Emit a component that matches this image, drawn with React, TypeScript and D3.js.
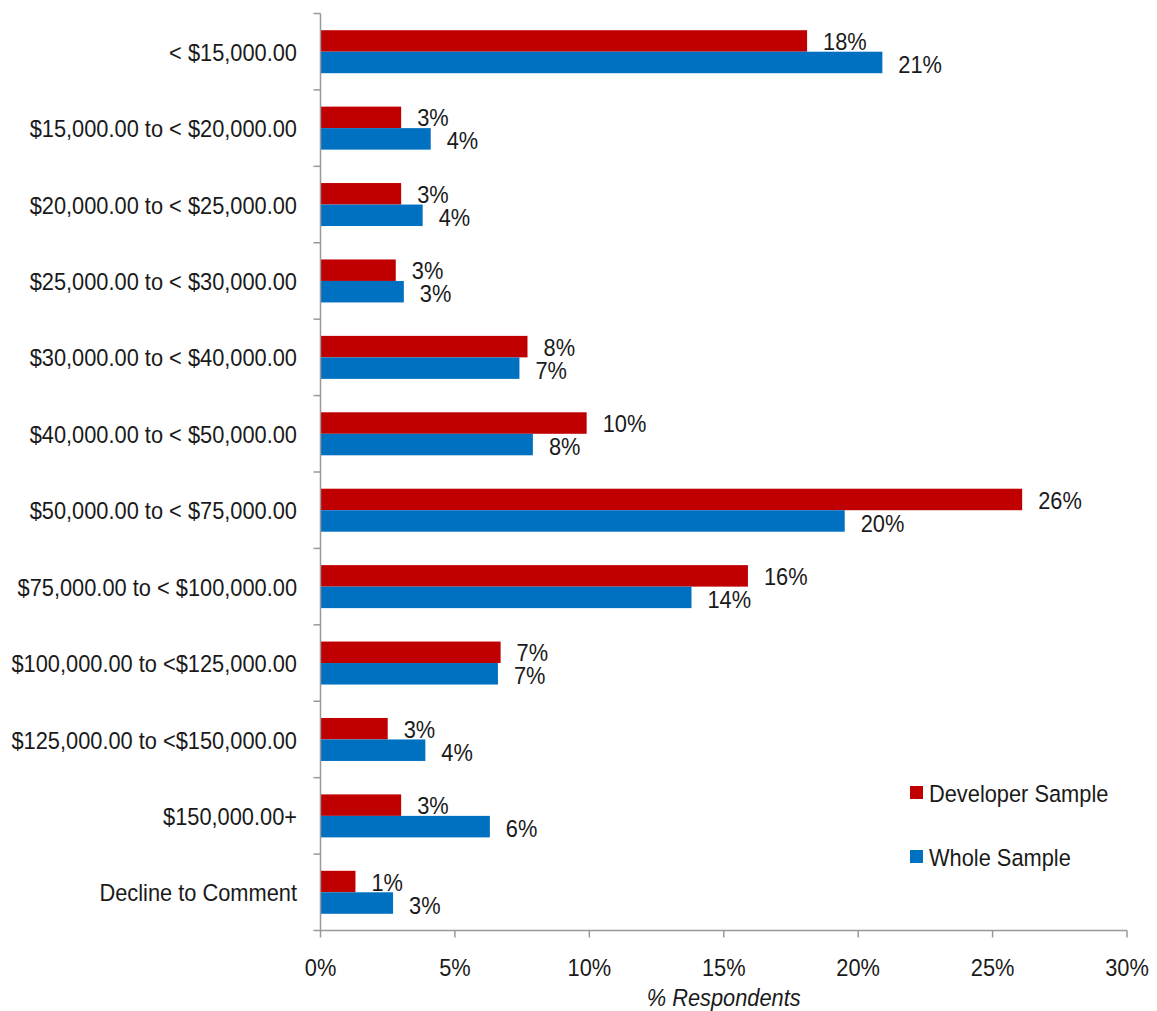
import React from "react";
import * as d3 from "d3";

const categories = [
  "< $15,000.00",
  "$15,000.00 to < $20,000.00",
  "$20,000.00 to < $25,000.00",
  "$25,000.00 to < $30,000.00",
  "$30,000.00 to < $40,000.00",
  "$40,000.00 to < $50,000.00",
  "$50,000.00 to < $75,000.00",
  "$75,000.00 to < $100,000.00",
  "$100,000.00 to <$125,000.00",
  "$125,000.00 to <$150,000.00",
  "$150,000.00+",
  "Decline to Comment",
];
const developerSample = [18.1, 3.0, 3.0, 2.8, 7.7, 9.9, 26.1, 15.9, 6.7, 2.5, 3.0, 1.3];
const wholeSample = [20.9, 4.1, 3.8, 3.1, 7.4, 7.9, 19.5, 13.8, 6.6, 3.9, 6.3, 2.7];
const developerLabels = ["18%", "3%", "3%", "3%", "8%", "10%", "26%", "16%", "7%", "3%", "3%", "1%"];
const wholeLabels = ["21%", "4%", "4%", "3%", "7%", "8%", "20%", "14%", "7%", "4%", "6%", "3%"];
const xTicks = [0, 5, 10, 15, 20, 25, 30];
const seriesNames = ["Developer Sample", "Whole Sample"];
const seriesColors = ["#C00000", "#0070C0"];

const FONT = "'Liberation Sans Narrow', 'Arial Narrow', 'Liberation Sans', Arial, sans-serif";
const FS = 24.5;
const SX = 0.89;

function NText(props: {
  x: number;
  y: number;
  anchor?: "start" | "middle" | "end";
  italic?: boolean;
  children: React.ReactNode;
}) {
  return (
    <text
      transform={`translate(${props.x},${props.y}) scale(${SX},1)`}
      dy="0.35em"
      textAnchor={props.anchor || "start"}
      fontSize={FS}
      fontStyle={props.italic ? "italic" : "normal"}
      fill="#1a1a1a"
    >
      {props.children}
    </text>
  );
}

export default function App() {
  const width = 1157;
  const height = 1011;
  const left = 320.5;
  const right = 1127;
  const top = 13.5;
  const bottom = 930.5;

  const x = d3.scaleLinear().domain([0, 30]).range([left, right]);
  const y = d3.scaleBand().domain(categories).range([top, bottom]);
  const bw = y.bandwidth();
  const barH = 21.5;
  const axisColor = "#999";

  return (
    <svg width={width} height={height} style={{ position: "absolute", left: 0, top: 0, background: "#fff" }} fontFamily={FONT}>
      {categories.map((c, i) => {
        const y0 = (y(c) as number) + bw / 2 - barH;
        return (
          <g key={c}>
            <rect x={x(0)} y={y0} width={x(developerSample[i]) - x(0)} height={barH} fill={seriesColors[0]} />
            <rect x={x(0)} y={y0 + barH} width={x(wholeSample[i]) - x(0)} height={barH} fill={seriesColors[1]} />
            <NText x={x(developerSample[i]) + 16} y={y0 + barH / 2 + 0.5}>{developerLabels[i]}</NText>
            <NText x={x(wholeSample[i]) + 16} y={y0 + barH * 1.5 + 2}>{wholeLabels[i]}</NText>
            <NText x={297} y={(y(c) as number) + bw / 2 + 0.5} anchor="end">{c}</NText>
          </g>
        );
      })}
      <line x1={left} x2={left} y1={top} y2={bottom} stroke={axisColor} strokeWidth={1.5} />
      {y.domain().map((c) => (
        <line key={c} x1={left - 7} x2={left} y1={y(c) as number} y2={y(c) as number} stroke={axisColor} strokeWidth={1.5} />
      ))}
      <line x1={left - 7} x2={left} y1={bottom} y2={bottom} stroke={axisColor} strokeWidth={1.5} />
      <line x1={left} x2={right} y1={bottom} y2={bottom} stroke={axisColor} strokeWidth={1.5} />
      {xTicks.map((t) => (
        <g key={t}>
          <line x1={x(t)} x2={x(t)} y1={bottom} y2={bottom + 7} stroke={axisColor} strokeWidth={1.5} />
          <NText x={x(t)} y={967} anchor="middle">{`${t}%`}</NText>
        </g>
      ))}
      <NText x={(left + right) / 2} y={997} anchor="middle" italic>% Respondents</NText>
      {seriesNames.map((s, i) => (
        <g key={s}>
          <rect x={910} y={786 + i * 64} width={13} height={13} fill={seriesColors[i]} />
          <NText x={929} y={793 + i * 64}>{s}</NText>
        </g>
      ))}
    </svg>
  );
}
